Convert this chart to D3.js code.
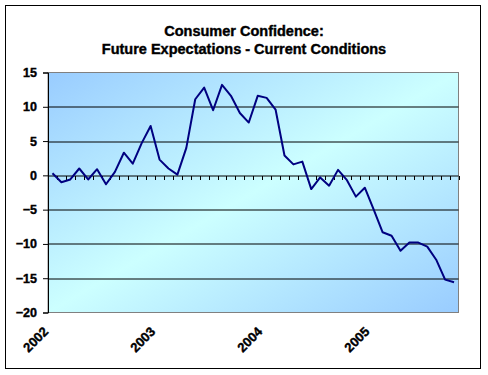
<!DOCTYPE html>
<html>
<head>
<meta charset="utf-8">
<script src="https://cdn.jsdelivr.net/npm/d3@7"></script>
<style>
  body { margin: 0; background: #fff; }
  text { font-family: "Liberation Sans", Arial, sans-serif; font-weight: bold; stroke: #000; stroke-width: 0.4px; }
</style>
</head>
<body>
<div id="chart"></div>
<script>
// Future expectations minus current conditions, monthly Jan 2002 - Oct 2005
const values = [
    0.3, -1.0, -0.6, 1.0, -0.6, 0.9, -1.3, 0.5, 3.3, 1.7, 4.7, 7.2,
    2.3, 1.0, 0.1, 4.0, 11.1, 12.8, 9.5, 13.2, 11.6, 9.1, 7.7, 11.6,
    11.3, 9.6, 2.9, 1.6, 2.0, -2.0, -0.3, -1.5, 0.8, -0.7, -3.1, -1.8,
    -5.0, -8.3, -8.8, -11.0, -9.8, -9.8, -10.4, -12.3, -15.2, -15.6
];
const yearLabels = ["2002", "2003", "2004", "2005"];
const yTicks = [15, 10, 5, 0, -5, -10, -15, -20];
const titleLines = ["Consumer Confidence:", "Future Expectations - Current Conditions"];

const width = 488;
const height = 375;
const margin = { top: 72.5, right: 29.5, bottom: 62.5, left: 48 };
const w = width - margin.left - margin.right;
const h = height - margin.top - margin.bottom;

const svg = d3.select("#chart")
    .append("svg")
    .attr("width", width)
    .attr("height", height);

// outer frame
svg.append("rect")
    .attr("x", 5.5).attr("y", 5.5)
    .attr("width", 475).attr("height", 363)
    .attr("fill", "#fff")
    .attr("stroke", "#000");

// background gradient
const grad = svg.append("defs").append("linearGradient")
    .attr("id", "bg")
    .attr("x1", "0%").attr("y1", "0%")
    .attr("x2", "100%").attr("y2", "100%");
grad.append("stop").attr("offset", "0%").attr("stop-color", "#99ccff");
grad.append("stop").attr("offset", "50%").attr("stop-color", "#ccffff");
grad.append("stop").attr("offset", "100%").attr("stop-color", "#99ccff");

// title
svg.append("g").selectAll("text")
    .data(titleLines)
    .enter()
    .append("text")
    .attr("x", 244)
    .attr("y", (d, i) => 36 + i * 18)
    .attr("text-anchor", "middle")
    .attr("font-size", "14.5px")
    .text(d => d);

const g = svg.append("g")
    .attr("transform", `translate(${margin.left},${margin.top})`);

// Scales
const x = d3.scaleBand()
    .domain(d3.range(values.length))
    .range([0, w]);

const y = d3.scaleLinear()
    .domain([-20, 15])
    .range([h, 0]);

g.append("rect")
    .attr("width", w).attr("height", h)
    .attr("fill", "url(#bg)")
    .attr("stroke", "#808080");

// gridlines
g.append("g")
    .selectAll("line")
    .data(yTicks.filter(d => d !== 15 && d !== -20 && d !== 0))
    .enter()
    .append("line")
    .attr("x1", 0).attr("x2", w)
    .attr("y1", d => Math.round(y(d)) + 0.5)
    .attr("y2", d => Math.round(y(d)) + 0.5)
    .attr("stroke", "#000");

// y axis
const yAxis = g.append("g")
    .call(d3.axisLeft(y).tickValues(yTicks).tickSize(5).tickPadding(6).tickFormat(d3.format("d")));
yAxis.selectAll("text").attr("font-size", "12.5px").attr("fill", "#000");
yAxis.select(".domain").attr("stroke", "#000");
yAxis.selectAll(".tick line").attr("stroke", "#000");

// x axis at zero, ticks between categories
const xAxis = g.append("g")
    .attr("transform", `translate(0,${Math.round(y(0)) + 0.5})`);
xAxis.append("line")
    .attr("x1", 0).attr("x2", w)
    .attr("stroke", "#000");
xAxis.selectAll(".tk")
    .data(d3.range(values.length + 1))
    .enter()
    .append("line")
    .attr("class", "tk")
    .attr("x1", d => Math.round(d * x.step()) + 0.5)
    .attr("x2", d => Math.round(d * x.step()) + 0.5)
    .attr("y1", 0).attr("y2", 4)
    .attr("stroke", "#000");

// year labels (below plot)
g.append("g")
    .selectAll("text")
    .data(yearLabels)
    .enter()
    .append("text")
    .attr("text-anchor", "end")
    .attr("font-size", "13px")
    .attr("transform", (d, i) => `translate(${x(i * 12) + 1},${h + 20}) rotate(-45)`)
    .text(d => d);

// line
const line = d3.line()
    .x((d, i) => x(i) + x.bandwidth() / 2)
    .y(d => y(d));

g.append("path")
    .datum(values)
    .attr("fill", "none")
    .attr("stroke", "#000080")
    .attr("stroke-width", 2)
    .attr("stroke-linejoin", "round")
    .attr("d", line);
</script>
</body>
</html>
